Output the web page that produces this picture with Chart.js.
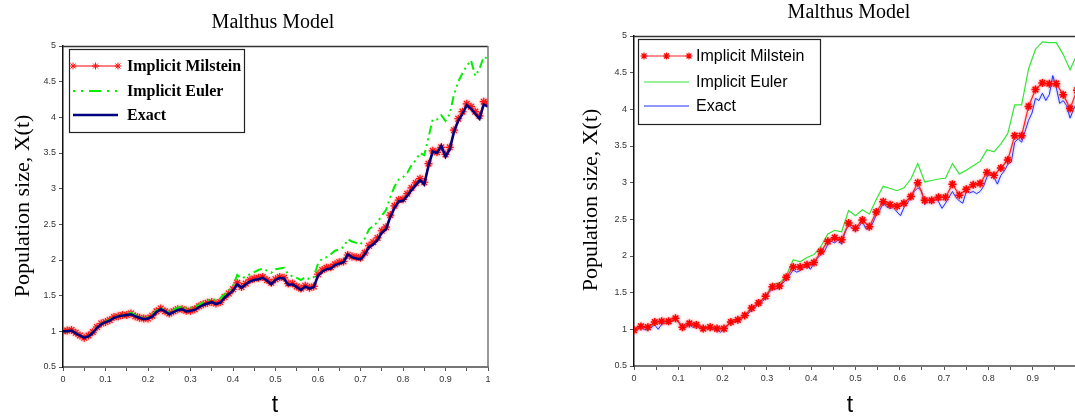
<!DOCTYPE html>
<html><head><meta charset="utf-8">
<script src="https://cdn.jsdelivr.net/npm/chart.js@4.4.1/dist/chart.umd.min.js"></script>
<style>
html,body{margin:0;padding:0;background:#fff;overflow:hidden;width:1075px;height:416px;}
#lw{position:absolute;left:0;top:0;width:540px;height:416px;}
#rw{position:absolute;left:540px;top:0;width:545px;height:416px;}
</style></head><body>
<div id="lw"><canvas id="cl"></canvas></div>
<div id="rw"><canvas id="cr"></canvas></div>
<script>
const titleText = "Malthus Model";
const yTitle = "Population size, X(t)";
const xTitle = "t";
const seriesNames = ["Implicit Milstein", "Implicit Euler", "Exact"];

// Left panel: values at t = 0, 0.01, ..., 1
const leftStep = 0.01;
const leftMilstein = [1.00,1.01,1.02,0.98,0.94,0.91,0.94,0.99,1.06,1.11,1.13,
 1.16,1.20,1.21,1.23,1.23,1.25,1.21,1.19,1.18,1.18,
 1.22,1.28,1.32,1.28,1.25,1.28,1.31,1.31,1.29,1.29,
 1.31,1.35,1.38,1.40,1.41,1.39,1.41,1.48,1.53,1.59,
 1.68,1.62,1.67,1.72,1.74,1.75,1.76,1.72,1.68,1.73,
 1.76,1.75,1.67,1.67,1.63,1.60,1.64,1.61,1.63,1.80,
 1.86,1.89,1.90,1.94,1.97,1.98,2.07,2.05,2.04,2.03,
 2.10,2.20,2.25,2.31,2.41,2.46,2.63,2.76,2.84,2.85,
 2.93,3.01,3.08,3.14,3.09,3.35,3.53,3.51,3.58,3.48,
 3.58,3.82,3.98,4.08,4.19,4.15,4.08,4.02,4.22,4.20];
const leftEuler = [1.00,1.00,1.01,0.97,0.94,0.91,0.93,0.99,1.06,1.11,1.14,
 1.16,1.20,1.22,1.23,1.24,1.26,1.23,1.21,1.19,1.20,
 1.23,1.29,1.33,1.30,1.27,1.30,1.33,1.35,1.32,1.33,
 1.34,1.37,1.41,1.43,1.45,1.44,1.46,1.52,1.57,1.64,
 1.79,1.74,1.77,1.80,1.83,1.86,1.88,1.85,1.82,1.87,
 1.88,1.89,1.80,1.77,1.75,1.72,1.76,1.73,1.76,1.95,
 2.02,2.04,2.08,2.13,2.15,2.18,2.29,2.26,2.24,2.22,
 2.30,2.43,2.48,2.53,2.62,2.70,2.88,3.03,3.13,3.16,
 3.22,3.33,3.40,3.50,3.47,3.72,3.97,3.97,4.03,3.95,
 4.05,4.32,4.50,4.62,4.72,4.80,4.58,4.68,4.85,4.82];
const leftExact = [1.00,1.00,1.01,0.97,0.94,0.91,0.93,0.98,1.05,1.10,1.13,
 1.15,1.19,1.21,1.22,1.23,1.24,1.21,1.19,1.17,1.18,
 1.21,1.27,1.31,1.28,1.24,1.27,1.30,1.31,1.28,1.29,
 1.30,1.34,1.37,1.39,1.41,1.38,1.40,1.47,1.52,1.57,
 1.66,1.61,1.66,1.70,1.72,1.73,1.75,1.71,1.66,1.72,
 1.75,1.74,1.65,1.66,1.62,1.58,1.63,1.60,1.62,1.78,
 1.84,1.87,1.88,1.93,1.95,1.97,2.08,2.04,2.02,2.01,
 2.08,2.18,2.22,2.28,2.38,2.43,2.60,2.73,2.82,2.83,
 2.90,2.98,3.05,3.12,3.06,3.32,3.52,3.50,3.60,3.45,
 3.55,3.80,3.95,4.05,4.17,4.12,4.05,3.98,4.18,4.15];

// Right panel: Milstein & Euler at dt = 1/64, Exact at dt = 1/128
const rightCoarseStep = 1/64;
const rightFineStep = 1/128;
const rightMilstein = [0.99,1.04,1.03,1.10,1.11,1.11,1.15,1.03,1.08,1.06,
 1.01,1.03,1.01,1.01,1.10,1.13,1.19,1.29,1.36,1.45,
 1.58,1.59,1.71,1.85,1.85,1.88,1.91,2.06,2.20,2.25,
 2.22,2.45,2.38,2.49,2.40,2.60,2.74,2.70,2.68,2.72,
 2.81,3.00,2.76,2.76,2.80,2.80,2.98,2.83,2.91,2.97,
 2.99,3.14,3.10,3.20,3.31,3.64,3.64,4.04,4.27,4.36,
 4.35,4.35,4.20,4.01,4.26];
const rightEuler = [1.00,1.03,1.03,1.07,1.10,1.11,1.13,1.05,1.06,1.05,
 1.03,1.03,1.02,1.02,1.10,1.13,1.17,1.27,1.36,1.44,
 1.62,1.63,1.73,1.95,1.92,1.98,2.02,2.13,2.30,2.35,
 2.33,2.62,2.55,2.63,2.57,2.77,2.95,2.92,2.89,2.93,
 3.05,3.26,3.01,3.03,3.05,3.06,3.26,3.12,3.17,3.23,
 3.29,3.45,3.42,3.53,3.67,4.06,4.06,4.55,4.82,4.92,
 4.91,4.91,4.75,4.54,4.75];
const rightExact = [0.99,1.00,1.03,1.00,0.99,1.03,1.06,1.00,1.07,1.09,
 1.08,1.12,1.15,1.10,1.01,1.03,1.06,1.03,1.05,1.02,
 1.00,1.02,1.01,1.00,0.99,0.96,1.00,1.05,1.10,1.10,
 1.12,1.15,1.17,1.21,1.27,1.30,1.34,1.38,1.42,1.50,
 1.55,1.55,1.57,1.63,1.68,1.74,1.81,1.78,1.80,1.84,
 1.86,1.82,1.90,1.97,2.02,2.06,2.16,2.20,2.18,2.22,
 2.16,2.33,2.42,2.38,2.34,2.40,2.47,2.37,2.37,2.45,
 2.56,2.62,2.72,2.67,2.65,2.66,2.60,2.55,2.66,2.72,
 2.80,2.88,2.93,2.90,2.70,2.76,2.72,2.78,2.74,2.65,
 2.72,2.80,2.88,2.80,2.75,2.72,2.88,2.86,2.88,2.85,
 2.88,2.95,3.08,3.12,3.08,2.98,3.10,3.16,3.25,3.28,
 3.55,3.60,3.55,3.70,3.85,3.95,4.15,4.12,4.22,4.12,
 4.20,4.46,4.30,4.08,4.12,4.05,3.88,4.00,4.10];

const toXY = (arr, step) => arr.map((v, i) => ({x: i * step, y: v}));

const glowPlugin = {
  id: 'glow',
  beforeDatasetDraw(chart, args) {
    const d = chart.data.datasets[args.index];
    if (d.glow) { chart.ctx.save(); chart.ctx.shadowColor = d.glow; chart.ctx.shadowBlur = d.glowBlur || 4; }
  },
  afterDatasetDraw(chart, args) {
    if (chart.data.datasets[args.index].glow) chart.ctx.restore();
  }
};

function decorPlugin(cfg) {
  return {
    id: 'decor',
    afterDraw(chart) {
      const ctx = chart.ctx, a = chart.chartArea;
      ctx.save();
      ctx.strokeStyle = '#333'; ctx.lineWidth = 1.5;
      ctx.beginPath(); ctx.moveTo(a.left, a.top + 0.5); ctx.lineTo(a.right, a.top + 0.5); ctx.stroke();
      ctx.strokeStyle = '#777'; ctx.lineWidth = 1.5;
      ctx.beginPath(); ctx.moveTo(a.right, a.top); ctx.lineTo(a.right, a.bottom); ctx.stroke();
      ctx.fillStyle = '#000';
      ctx.textAlign = 'center'; ctx.textBaseline = 'middle';
      ctx.font = '20px "Liberation Serif"';
      ctx.fillText(titleText, cfg.titleX, cfg.titleY);
      ctx.font = '23px "Liberation Sans"';
      ctx.fillText(xTitle, cfg.xTitleX, cfg.xTitleY);
      ctx.save();
      ctx.translate(cfg.yTitleX, cfg.yTitleY); ctx.rotate(-Math.PI / 2);
      ctx.font = '22px "Liberation Serif"';
      ctx.fillText(yTitle, 0, 0);
      ctx.restore();
      const L = cfg.legend;
      ctx.fillStyle = '#fff'; ctx.fillRect(L.x, L.y, L.w, L.h);
      ctx.strokeStyle = '#222'; ctx.lineWidth = 1.2;
      ctx.strokeRect(L.x + 0.5, L.y + 0.5, L.w, L.h);
      const ds = chart.data.datasets;
      for (let i = 0; i < 3; i++) {
        const d = ds[i], y = L.rows[i];
        ctx.save();
        ctx.strokeStyle = d.borderColor; ctx.lineWidth = d.borderWidth;
        if (cfg.legendDash && d.borderDash) ctx.setLineDash(cfg.legendDash);
        ctx.beginPath(); ctx.moveTo(L.sx0, y); ctx.lineTo(L.sx1, y); ctx.stroke();
        ctx.setLineDash([]);
        if (d.pointRadius > 0) {
          [L.sx0, (L.sx0 + L.sx1) / 2, L.sx1].forEach(px => {
            ctx.strokeStyle = d.pointBorderColor;
            Chart.helpers.drawPoint(ctx, {pointStyle: 'star', radius: 3.5, rotation: 0, borderWidth: 1.2}, px, y);
          });
        }
        ctx.restore();
        ctx.fillStyle = '#000'; ctx.textAlign = 'left'; ctx.textBaseline = 'middle';
        ctx.font = L.font;
        ctx.fillText(seriesNames[i], L.tx, y + 1);
      }
      ctx.restore();
    }
  };
}

function scalesCfg(yWidth, hideOne) {
  return {
    x: {
      type: 'linear', min: 0, max: 1,
      afterFit: s => { s.height = 20; },
      ticks: {
        stepSize: 0.05, autoSkip: false, maxRotation: 0, padding: 3,
        color: '#333', font: {family: 'Liberation Sans', size: 9},
        callback: v => {
          const k = Math.round(v * 100);
          if (k % 10 !== 0) return '';
          if (hideOne && k === 100) return '';
          return String(k / 100);
        }
      },
      grid: {drawOnChartArea: false, drawTicks: true, tickLength: 4, color: '#555', lineWidth: 1},
      border: {display: true, color: '#777', width: 2}
    },
    y: {
      type: 'linear', min: 0.5, max: 5,
      afterFit: s => { s.width = yWidth; },
      ticks: {stepSize: 0.5, padding: 3, color: '#333', font: {family: 'Liberation Sans', size: 9},
        callback: v => String(Math.round(v * 10) / 10)},
      grid: {drawOnChartArea: false, drawTicks: true, tickLength: 4, color: '#555', lineWidth: 1},
      border: {display: true, color: '#111', width: 1.5}
    }
  };
}

new Chart(document.getElementById('cl'), {
  type: 'line',
  data: {
    datasets: [
      {label: seriesNames[0], data: toXY(leftMilstein, leftStep), borderColor: '#ff0000', borderWidth: 1,
       pointStyle: 'star', pointRadius: 4, pointBorderColor: '#ff1010', pointBorderWidth: 1.2, order: 3, tension: 0,
       glow: 'rgba(255,90,90,0.7)', glowBlur: 3},
      {label: seriesNames[1], data: toXY(leftEuler, leftStep), borderColor: '#00ee00', borderWidth: 2,
       borderDash: [9, 4, 2, 4, 2, 4], pointRadius: 0, order: 2, tension: 0},
      {label: seriesNames[2], data: toXY(leftExact, leftStep), borderColor: '#000080', borderWidth: 2.5,
       pointRadius: 0, order: 1, tension: 0}
    ]
  },
  options: {
    responsive: true, maintainAspectRatio: false, animation: false,
    layout: {padding: {left: 0, right: 52, top: 46, bottom: 29}},
    plugins: {legend: {display: false}, tooltip: {enabled: false}, title: {display: false}},
    scales: scalesCfg(63, false)
  },
  plugins: [glowPlugin, decorPlugin({
    titleX: 273, titleY: 23, xTitleX: 275, xTitleY: 406, yTitleX: 23, yTitleY: 206,
    legendDash: [2, 6, 2, 6, 12, 6],
    legend: {x: 69, y: 49, w: 175, h: 83, rows: [66, 91, 115], sx0: 73, sx1: 118, tx: 127,
             font: 'bold 16px "Liberation Serif"'}
  })]
});

new Chart(document.getElementById('cr'), {
  type: 'line',
  data: {
    datasets: [
      {label: seriesNames[0], data: toXY(rightMilstein, rightCoarseStep), borderColor: '#ff2020', borderWidth: 1.2,
       pointStyle: 'star', pointRadius: 4, pointBorderColor: '#ff0000', pointBorderWidth: 1.5, order: 1, tension: 0,
       glow: 'rgba(255,80,80,0.75)', glowBlur: 3},
      {label: seriesNames[1], data: toXY(rightEuler, rightCoarseStep), borderColor: '#33e633', borderWidth: 1.2,
       pointRadius: 0, order: 3, tension: 0},
      {label: seriesNames[2], data: toXY(rightExact, rightFineStep), borderColor: '#2030ff', borderWidth: 1,
       pointRadius: 0, order: 2, tension: 0, glow: 'rgba(90,110,255,0.8)', glowBlur: 3}
    ]
  },
  options: {
    responsive: true, maintainAspectRatio: false, animation: false,
    layout: {padding: {left: 0, right: 8, top: 36, bottom: 30}},
    plugins: {legend: {display: false}, tooltip: {enabled: false}, title: {display: false}},
    scales: scalesCfg(94, true)
  },
  plugins: [glowPlugin, decorPlugin({
    titleX: 309, titleY: 13, xTitleX: 310, xTitleY: 406, yTitleX: 51, yTitleY: 200,
    legendDash: null,
    legend: {x: 98, y: 39, w: 182, h: 85, rows: [56, 82, 106], sx0: 104, sx1: 149, tx: 156,
             font: '16px "Liberation Sans"'}
  })]
});
</script>
</body></html>
